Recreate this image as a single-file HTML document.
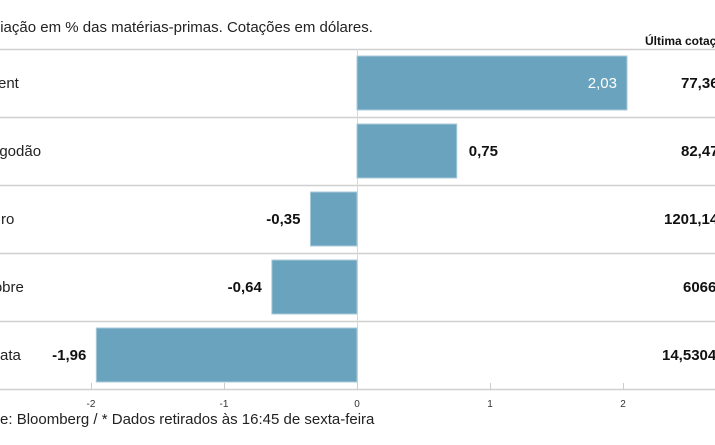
<!DOCTYPE html>
<html><head><meta charset="utf-8"><style>
html,body{margin:0;padding:0;background:#fff;overflow:hidden}
svg{display:block;font-family:"Liberation Sans Narrow","Liberation Sans",sans-serif}
</style></head><body>
<svg id="c" width="715" height="445" viewBox="0 0 715 445">
<text x="-22" y="32" font-size="15" fill="#222">Variação em % das matérias-primas. Cotações em dólares.</text>
<text x="645" y="45" font-size="12" font-weight="bold" fill="#111">Última cotação*</text>
<text x="-30" y="424" font-size="15" fill="#222">Fonte: Bloomberg / * Dados retirados às 16:45 de sexta-feira</text>
<g id="g"></g>
</svg>
<script>
const categories=["Brent","Algodão","Ouro","Cobre","Prata"];
const changes=[2.03,0.75,-0.35,-0.64,-1.96];
const quotes=["77,36","82,47","1201,14","6066","14,5304"];
const ticks=[-2,-1,0,1,2];
const labelOffsets=[-17,-14,-19,-17,-15];
const NS="http://www.w3.org/2000/svg";
const g=document.getElementById('g');
const x=v=>357+v*133;
const rowTop=i=>49+i*68;
function el(t,a,txt){const e=document.createElementNS(NS,t);for(const k in a)e.setAttribute(k,a[k]);if(txt!==undefined)e.textContent=txt;g.appendChild(e);return e;}
const fmt=v=>v.toFixed(2).replace('.',',');
for(let i=0;i<=categories.length;i++){
  const l=el('line',{x1:0,x2:715,y1:rowTop(i)+0.5,y2:rowTop(i)+0.5,stroke:'#d0d0d0','stroke-width':1.5});
  
  
}
const zl=el('line',{x1:x(0)+0.5,x2:x(0)+0.5,y1:49,y2:390,stroke:'#d8d8d8','stroke-width':1});


ticks.forEach(t=>{
  const tl=el('line',{x1:x(t)+0.5,x2:x(t)+0.5,y1:383,y2:390,stroke:'#ccc'});
  
  
  const tx=el('text',{x:x(t),y:407,'font-size':10,'text-anchor':'middle',fill:'#333'},String(t));
  
  
});
categories.forEach((c,i)=>{
  const v=changes[i],top=rowTop(i)+7,cy=top+32;
  const lab=el('text',{x:labelOffsets[i],y:cy,'font-size':15,fill:'#222'},c);
  
  
  const b=el('rect',{x:Math.min(x(0),x(v)),y:top,width:Math.abs(x(v)-x(0)),height:54,fill:'#6aa3be',stroke:'#a9cbdb','stroke-width':1});
  
  
  let vl;
  if(v>=1.5) vl=el('text',{x:x(v)-10,y:cy,'font-size':15,'text-anchor':'end',fill:'#fff'},fmt(v));
  else if(v>=0) vl=el('text',{x:x(v)+12,y:cy,'font-size':15,'font-weight':'bold','text-anchor':'start',fill:'#111'},fmt(v));
  else vl=el('text',{x:x(v)-10,y:cy,'font-size':15,'font-weight':'bold','text-anchor':'end',fill:'#111'},fmt(v));
  
  
  const q=el('text',{x:681+({"1201,14":-17,"6066":2,"14,5304":-19}[quotes[i]]||0),y:cy,'font-size':15,'font-weight':'bold',fill:'#111'},quotes[i]);
  
  
});
</script>
</body></html>
